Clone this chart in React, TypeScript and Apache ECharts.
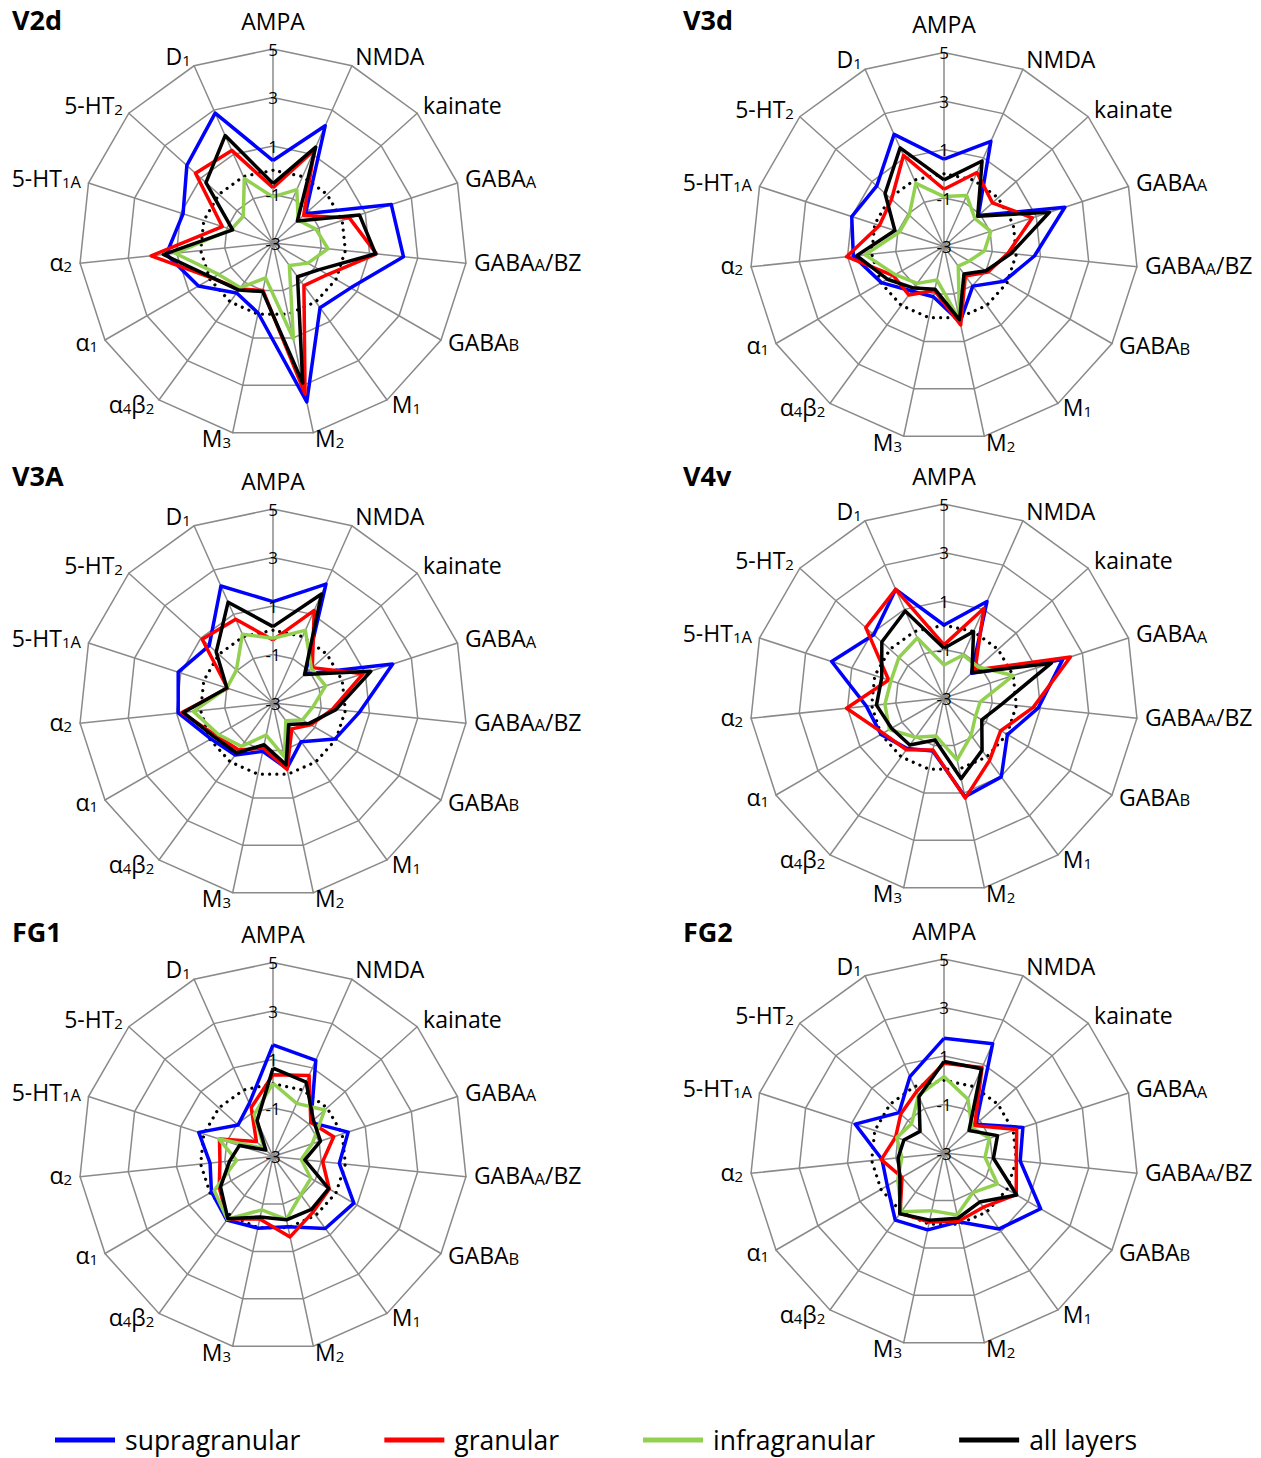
import React, { useEffect, useRef } from "react";
import * as echarts from "echarts";

const receptors = ["AMPA", "NMDA", "kainate", "GABAA", "GABAA/BZ", "GABAB", "M1", "M2", "M3", "α4β2", "α1", "α2", "5-HT1A", "5-HT2", "D1"];
const receptorLabels: Record<string, string> = {
  "AMPA": "{top|AMPA}", "NMDA": "NMDA", "kainate": "kainate",
  "GABAA": "GABA{sc|A}", "GABAA/BZ": "GABA{sc|A}/BZ", "GABAB": "GABA{sc|B}",
  "M1": "M{sub|1}", "M2": "M{sub|2}", "M3": "M{sub|3}",
  "α4β2": "α{sub|4}β{sub|2}", "α1": "α{sub|1}", "α2": "α{sub|2}",
  "5-HT1A": "5-HT{sub|1}{sc|A}", "5-HT2": "5-HT{sub|2}", "D1": "D{sub|1}",
};
// ECharts places indicators counter-clockwise; this order makes them run clockwise
const axisOrder = [0, 14, 13, 12, 11, 10, 9, 8, 7, 6, 5, 4, 3, 2, 1];
const axisMin = -3;
const axisMax = 5;
const axisStep = 2;
const axisSplits = 4;

const layerNames = ["supragranular", "granular", "infragranular", "all layers"];
const layerColors = ["#0000FF", "#FF0000", "#92D050", "#000000"];
const meanLine = [0, 0, 0, 0, 0, 0, 0, 0, 0, 0, 0, 0, 0, 0, 0];

const areaNames = ["V2d", "V3d", "V3A", "V4v", "FG1", "FG2"];

const v2dSupra = [0.4, 2.29, -1.2, 2.13, 2.41, 0.7, 0.3, 3.7, -0.05, -0.45, 0.55, 1.42, 0.9, 1.78, 2.86];
const v2dGran = [-0.72, 1.2, -1.3, 0.32, 1.29, -0.4, -0.83, 3.35, -1.0, -0.65, -0.11, 2.05, -0.8, 1.3, 1.18];
const v2dInfra = [-1.1, -0.59, -1.6, -1.14, -0.72, -1.34, -1.85, 1.05, -1.53, -0.72, -0.41, 1.06, -1.19, -1.35, -0.09];
const v2dAll = [-0.55, 1.33, -1.65, 0.75, 1.25, -0.8, -1.28, 2.9, -0.95, -0.6, -0.13, 1.55, -1.25, 0.72, 1.85];

const v3dSupra = [0.6, 1.75, -1.09, 2.24, 0.75, -0.14, -0.98, 0.18, -0.88, -0.73, -0.02, 0.76, 1.0, 0.73, 2.06];
const v3dGran = [-0.64, 0.34, -0.31, 0.83, -0.35, -0.9, -1.5, 0.31, -1.14, -0.53, -0.59, 1.04, -0.2, -0.09, 1.11];
const v3dInfra = [-0.94, -0.7, -1.28, -0.97, -1.32, -1.8, -2.0, 0.09, -1.59, -1.12, -0.68, 0.27, -1.07, -1.07, -0.15];
const v3dAll = [-0.25, 0.86, -1.13, 1.57, -0.22, -1.0, -1.6, 0.09, -1.2, -0.88, -0.3, 0.62, -0.87, 0.27, 1.45];

const v3aSupra = [1.18, 2.37, -1.21, 2.19, 0.59, -0.04, -1.03, -0.24, -0.96, -0.35, -0.04, 0.93, 1.11, 0.54, 2.28];
const v3aGran = [-0.4, 1.18, -0.82, 0.9, -0.53, -1.2, -1.68, -0.2, -1.1, -0.6, -0.3, 0.78, -1.03, 0.93, 0.78];
const v3aInfra = [-0.33, 0.28, -0.87, -0.72, -1.35, -1.6, -2.1, -0.73, -1.65, -0.79, -0.4, 0.3, -1.0, -0.97, 0.1];
const v3aAll = [0.15, 1.92, -1.25, 1.24, -0.39, -1.3, -1.9, -0.39, -1.24, -0.45, -0.2, 0.72, -1.0, 0.15, 1.55];

const v4vSupra = [0.01, 1.36, -1.47, 2.15, 0.91, 0.02, 1.02, 1.16, -0.77, -0.42, 0.0, 0.22, 1.87, 0.9, 1.9];
const v4vGran = [-0.81, 1.05, -1.28, 2.48, 0.7, -0.3, 0.19, 1.22, -0.81, -0.36, -0.1, 1.04, -0.6, 1.34, 1.9];
const v4vInfra = [-1.64, -1.06, -1.09, 0.0, -1.5, -1.5, -1.1, -0.39, -1.4, -1.0, -0.4, -0.55, -0.7, -0.5, -0.29];
const v4vAll = [-0.95, 0.0, -1.45, 1.65, -0.6, -1.2, -0.33, 0.4, -1.23, -0.6, -0.5, -0.2, -0.3, 0.45, 0.93];

const fg1Supra = [1.6, 1.34, -0.9, 0.26, -0.25, 0.85, 0.67, -0.04, 0.02, 0.24, -0.07, -0.39, 0.22, -1.06, -0.6];
const fg1Gran = [0.37, 0.66, -0.9, -0.37, -0.94, -0.32, -0.18, 0.39, -0.37, 0.19, -0.44, -0.8, -0.68, -2.08, -0.79];
const fg1Infra = [0.02, -0.6, -0.13, -1.3, -1.83, -1.2, -1.05, -0.35, -0.75, 0.2, -0.2, -1.49, -0.65, -2.5, -1.1];
const fg1All = [0.64, 0.36, -0.76, -0.94, -1.68, -0.35, -0.3, -0.33, -0.45, 0.17, -0.5, -1.2, -1.54, -2.6, -1.39];

const fg2Supra = [1.73, 1.93, -1.23, 0.42, 0.16, 1.6, 0.87, -0.1, 0.24, 0.42, -0.3, -0.43, 0.85, -0.51, 0.45];
const fg2Gran = [0.7, 0.86, -1.3, 0.15, 0.0, 0.44, -0.24, -0.12, -0.09, 0.08, -1.0, -0.4, -0.9, -0.6, -0.22];
const fg2Infra = [0.15, -0.57, -1.45, -1.03, -1.3, -0.46, -0.98, -0.39, -0.57, 0.0, -0.8, -1.25, -0.95, -1.2, -0.4];
const fg2All = [0.77, 0.8, -1.61, -0.68, -0.95, 0.46, -0.5, -0.25, -0.17, 0.1, -0.9, -1.1, -1.26, -1.67, -0.46];

const areaData = [
  [v2dSupra, v2dGran, v2dInfra, v2dAll],
  [v3dSupra, v3dGran, v3dInfra, v3dAll],
  [v3aSupra, v3aGran, v3aInfra, v3aAll],
  [v4vSupra, v4vGran, v4vInfra, v4vAll],
  [fg1Supra, fg1Gran, fg1Infra, fg1All],
  [fg2Supra, fg2Gran, fg2Infra, fg2All],
];

// layout
const panelCenters: [number, number][] = [
  [273, 243], [944, 246.5],
  [273, 703], [944, 698],
  [273, 1156.5], [944, 1153],
];
const panelRadius = 194;
const titlePos: [number, number][] = [
  [12, 6], [683, 6], [12, 462], [683, 462], [12, 918], [683, 918],
];

const FONT = "'Open Sans', 'Noto Sans', sans-serif";

export default function App() {
  const ref = useRef<HTMLDivElement>(null);
  useEffect(() => {
    if (!ref.current) return;
    const chart = echarts.init(ref.current, undefined, { renderer: "svg" });
    const radars = panelCenters.map((c) => ({
      center: c,
      radius: panelRadius,
      startAngle: 90,
      shape: "polygon",
      splitNumber: axisSplits,
      nameGap: 8,
      z: 2,
      axisName: {
        color: "#000",
        fontSize: 23,
        fontFamily: FONT,
        padding: [0, 0, 5, 0],
        formatter: (name: string) => receptorLabels[name] ?? name,
        rich: {
          top: { fontSize: 23, fontFamily: FONT, color: "#000", padding: [0, 0, 4, 0] },
          sub: { fontSize: 15, fontFamily: FONT, color: "#000", lineHeight: 15, verticalAlign: "bottom" },
          sc: { fontSize: 16.5, fontFamily: FONT, color: "#000", lineHeight: 20, verticalAlign: "bottom" },
        },
      },
      axisLine: { lineStyle: { color: "#8a8a8a", width: 1.5 } },
      splitLine: { lineStyle: { color: "#8a8a8a", width: 1.5 } },
      splitArea: { show: false },
      axisTick: { show: false },
      axisLabel: { show: false },
      indicator: axisOrder.map((i) => ({
        name: receptors[i],
        min: axisMin,
        max: axisMax,
      })),
    }));

    // tick labels of the radial scale, through a polar radius axis laid over each radar
    const polar = panelCenters.map((c) => ({ center: c, radius: panelRadius }));
    const angleAxis = panelCenters.map((_, p) => ({
      polarIndex: p,
      show: false,
      startAngle: 90,
      min: 0,
      max: 360,
    }));
    const radiusAxis = panelCenters.map((_, p) => ({
      polarIndex: p,
      type: "value",
      min: 0,
      max: axisMax - axisMin,
      interval: axisStep,
      z: 20,
      axisLine: { show: false },
      axisTick: { show: false },
      splitLine: { show: false },
      axisLabel: {
        show: true,
        margin: 0,
        align: "center",
        verticalAlign: "middle",
        fontSize: 17,
        fontFamily: FONT,
        color: "#000",
        formatter: (v: number) => String(v + axisMin),
      },
    }));

    const series: any[] = [];
    areaData.forEach((layers, p) => {
      series.push({
        type: "radar",
        radarIndex: p,
        name: "mean",
        silent: true,
        symbol: "none",
        z: 4,
        lineStyle: { color: "#000", width: 3.2, type: [0.01, 7.2], cap: "round" },
        itemStyle: { color: "#000" },
        data: [{ value: axisOrder.map((i) => meanLine[i]) }],
      });
      layers.forEach((vals, k) => {
        series.push({
          type: "radar",
          radarIndex: p,
          name: layerNames[k],
          symbol: "none",
          z: 5 + k,
          lineStyle: { color: layerColors[k], width: 3.5 },
          itemStyle: { color: layerColors[k] },
          data: [{ value: axisOrder.map((i) => vals[i]) }],
        });
      });
    });

    chart.setOption({
      animation: false,
      backgroundColor: "#fff",
      title: areaNames.map((t, i) => ({
        text: t,
        left: titlePos[i][0],
        top: titlePos[i][1],
        padding: 0,
        textStyle: { fontSize: 27, fontWeight: "bold", fontFamily: FONT, color: "#000" },
      })),
      legend: {
        data: layerNames,
        left: 55,
        top: 1426,
        padding: 0,
        icon: "rect",
        itemWidth: 60,
        itemHeight: 5,
        itemGap: 84,
        textStyle: { fontSize: 26.5, lineHeight: 28, fontFamily: FONT, color: "#000", padding: [0, 0, 0, 5] },
      },
      polar,
      angleAxis,
      radiusAxis,
      radar: radars,
      series,
    });
    return () => chart.dispose();
  }, []);
  return <div ref={ref} style={{ position: "absolute", left: 0, top: 0, width: 1261, height: 1458 }} />;
}
